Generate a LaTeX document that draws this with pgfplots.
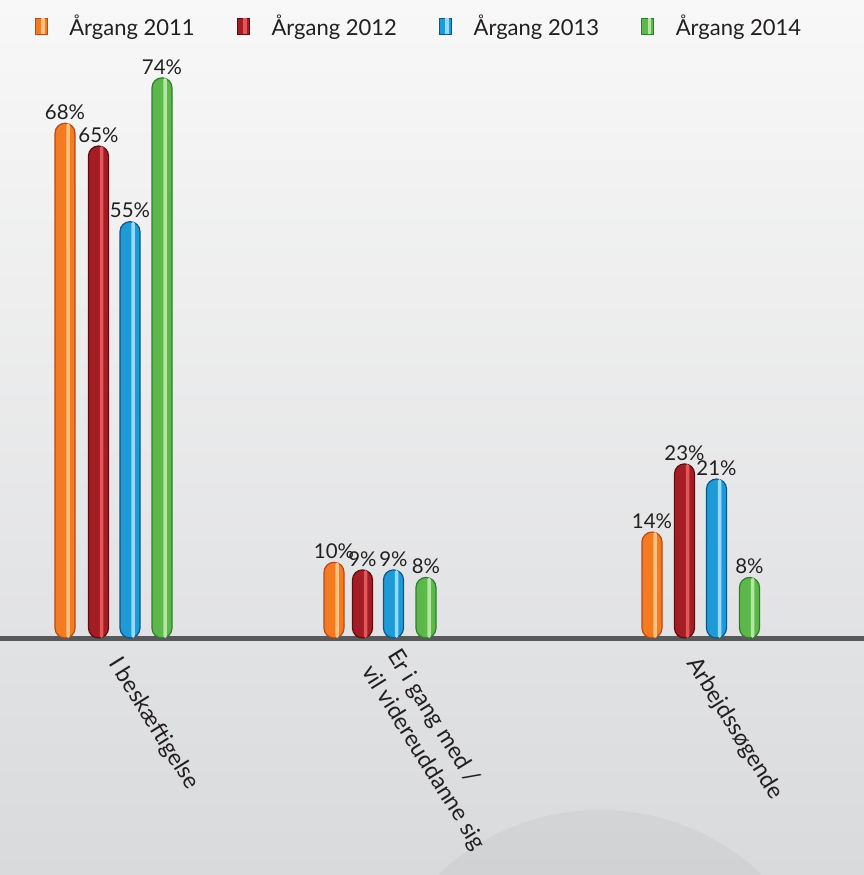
\documentclass[border=0pt]{standalone}
\usepackage{pgfplots}
\pgfplotsset{compat=1.18}
\usepackage{fontspec}
\setmainfont{Lato}
\definecolor{bgtop}{HTML}{F8F8F8}
\definecolor{bgbot}{HTML}{D9DADC}
\definecolor{txt}{HTML}{231F20}
\definecolor{axc}{HTML}{58595B}
\definecolor{oD}{HTML}{B9491A}\definecolor{oM}{HTML}{F47B20}\definecolor{oL}{HTML}{FFC283}
\definecolor{rD}{HTML}{5E0C10}\definecolor{rM}{HTML}{A51D24}\definecolor{rL}{HTML}{E0585A}
\definecolor{bD}{HTML}{0A568E}\definecolor{bM}{HTML}{1E9BD7}\definecolor{bL}{HTML}{95DAFF}
\definecolor{gD}{HTML}{2C7F2E}\definecolor{gM}{HTML}{5DB84B}\definecolor{gL}{HTML}{B6E7A0}
\pgfplotsset{
  mybar/.style n args={3}{ybar, bar width=10pt, bar shift=0pt, draw=#1, fill=#2, line width=0.6pt, rounded corners=5pt,
    nodes near coords={\pgfmathprintnumber{\pgfplotspointmeta}\%},
    legend image code/.code={\draw[draw=#1, fill=#2, sharp corners, line width=0.4pt] (0pt,-4pt) rectangle (6pt,4pt);
      \fill[#3, sharp corners] (3.4pt,-3.8pt) rectangle (4.6pt,3.8pt);}},
  hilite/.style={ybar, bar width=1.7pt, bar shift=1.55pt, draw=none, fill=#1, rounded corners=0.85pt, forget plot},
  shade/.style={ybar, bar width=2pt, bar shift=-3.3pt, draw=none, fill=#1, rounded corners=1pt, forget plot},
}
\begin{document}
\begin{tikzpicture}
\clip (0,0) rectangle (432pt,437.5pt);
\shade[top color=bgtop,bottom color=bgbot] (0,0) rectangle (432pt,437.5pt);
\fill[black, opacity=0.035] (300pt,-85pt) circle (117.5pt);
\begin{axis}[at={(0pt,118.5pt)}, anchor=south west, scale only axis,
  width=432pt, height=319pt, xmin=0, xmax=864, ymin=0, ymax=84.28,
  clip=false,
  axis x line*=bottom, axis y line=none,
  axis line style={line width=2.5pt, color=axc},
  xtick={110,376,688},
  xticklabels={I beskæftigelse, {Er i gang med /\\vil videreuddanne sig}, Arbejdssøgende},
  xticklabel style={rotate=-58, anchor=west, align=left, font=\fontsize{11.5}{15}\selectfont, text=txt},
  xticklabel shift=8pt,
  major tick length=0pt, tick style={draw=none},
  ytick=\empty,
  /pgf/number format/assume math mode=true,
  every node near coord/.append style={font=\fontsize{10.2}{12}\selectfont, text=txt, inner sep=1.5pt},
  legend style={at={(0.486,1)}, anchor=north, yshift=-3pt, draw=none, fill=none,
    font=\fontsize{11}{13}\selectfont, text=txt,
    /tikz/every odd column/.append style={column sep=9pt},
    /tikz/every even column/.append style={column sep=19pt}},
  legend columns=4,
]
\addplot[mybar={oD}{oM}{oL}] coordinates {(65,68) (334,10) (652,14)};
\addlegendentry{Årgang 2011}
\addplot[mybar={rD}{rM}{rL}] coordinates {(98.5,65) (362.5,9) (684.5,23)};
\addlegendentry{Årgang 2012}
\addplot[mybar={bD}{bM}{bL}] coordinates {(130,55) (393.5,9) (716.5,21)};
\addlegendentry{Årgang 2013}
\addplot[mybar={gD}{gM}{gL}] coordinates {(162,74) (426,8) (749.5,8)};
\addlegendentry{Årgang 2014}
\addplot[hilite=oL] coordinates {(65,68) (334,10) (652,14)};
\addplot[hilite=rL] coordinates {(98.5,65) (362.5,9) (684.5,23)};
\addplot[hilite=bL] coordinates {(130,55) (393.5,9) (716.5,21)};
\addplot[hilite=gL] coordinates {(162,74) (426,8) (749.5,8)};
\end{axis}
\end{tikzpicture}
\end{document}
